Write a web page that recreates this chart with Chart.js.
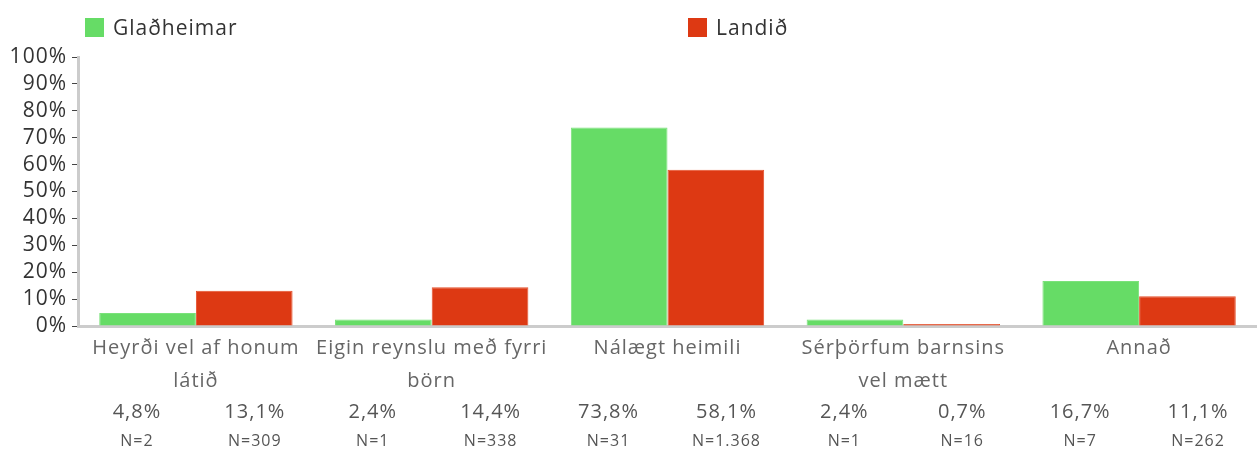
<!DOCTYPE html>
<html>
<head>
<meta charset="utf-8">
<script src="https://cdn.jsdelivr.net/npm/chart.js@4.4.1/dist/chart.umd.min.js"></script>
<style>
  html, body { margin:0; padding:0; background:#fff; }
  #wrap { position:relative; width:1257px; height:453px; }
  .leg { position:absolute; top:13px; font:21px "Open Sans", sans-serif; letter-spacing:1px; color:#333; display:flex; align-items:center; }
  .leg i { display:inline-block; width:19px; height:19px; margin-right:9px; }
</style>
</head>
<body>
<div id="wrap">
  <div class="leg" style="left:85px"><i style="background:#66dc66"></i>Glaðheimar</div>
  <div class="leg" style="left:688px"><i style="background:#dd3913"></i>Landið</div>
  <canvas id="chart" width="1257" height="453"></canvas>
</div>
<script>
const categories = [
  ['Heyrði vel af honum', 'látið'],
  ['Eigin reynslu með fyrri', 'börn'],
  ['Nálægt heimili'],
  ['Sérþörfum barnsins', 'vel mætt'],
  ['Annað']
];
const seriesNames = ['Glaðheimar', 'Landið'];
const glad = [4.8, 2.4, 73.8, 2.4, 16.7];
const landid = [13.1, 14.4, 58.1, 0.7, 11.1];
const gladN = ['N=2', 'N=1', 'N=31', 'N=1', 'N=7'];
const landidN = ['N=309', 'N=338', 'N=1.368', 'N=16', 'N=262'];
const yTicks = [0, 10, 20, 30, 40, 50, 60, 70, 80, 90, 100];

const colors = ['#66dc66', '#dd3913'];
const borders = ['#7ae27a', '#e5502c'];
const FONT = '"Open Sans", sans-serif';

function pctText(v){
  return v.toFixed(1).replace('.', ',') + '%';
}

// wider tracking, closer to the original typeface
const spacing = {
  id: 'spacing',
  beforeDraw(chart){ chart.ctx.letterSpacing = '1px'; }
};

// draws value + N rows under each bar group
const belowLabels = {
  id: 'belowLabels',
  afterDraw(chart){
    const ctx = chart.ctx;
    const x = chart.scales.x;
    const step = x.width / categories.length;
    const rows = [[glad, gladN], [landid, landidN]];
    ctx.save();
    ctx.textAlign = 'center';
    ctx.textBaseline = 'middle';
    categories.forEach((c, i) => {
      const cx = x.getPixelForValue(i);
      rows.forEach((r, k) => {
        const px = cx + (k === 0 ? -step / 4 : step / 4);
        ctx.fillStyle = '#555';
        ctx.font = '20px ' + FONT;
        ctx.fillText(pctText(r[0][i]), px, 412);
        ctx.font = '16px ' + FONT;
        ctx.fillText(r[1][i], px, 441);
      });
    });
    ctx.restore();
  }
};

new Chart(document.getElementById('chart'), {
  type: 'bar',
  data: {
    labels: categories,
    datasets: [
      { label: seriesNames[0], data: glad, backgroundColor: colors[0], borderColor: borders[0], borderWidth: 1 },
      { label: seriesNames[1], data: landid, backgroundColor: colors[1], borderColor: borders[1], borderWidth: 1 }
    ]
  },
  options: {
    responsive: false,
    animation: false,
    layout: { padding: { top: 57, right: 0, left: 0, bottom: 0 } },
    plugins: { legend: { display: false }, tooltip: { enabled: false } },
    datasets: { bar: { categoryPercentage: 0.82, barPercentage: 1.0 } },
    scales: {
      x: {
        grid: { display: false, drawTicks: false },
        border: { color: '#cccccc', width: 3 },
        ticks: { color: '#666', font: { family: FONT, size: 20, lineHeight: 1.65 }, padding: 6, maxRotation: 0, autoSkip: false },
        afterFit(s){ s.height = 127; }
      },
      y: {
        min: 0, max: 100,
        afterBuildTicks(s){ s.ticks = yTicks.map(v => ({ value: v })); },
        grid: { drawOnChartArea: false, tickLength: 6, color: '#444', tickWidth: 1 },
        border: { color: '#cccccc', width: 3 },
        ticks: { color: '#333', font: { family: FONT, size: 21, lineHeight: 1 }, padding: 5, autoSkip: false, callback: v => v + '%' },
        afterFit(s){ s.width = 78; }
      }
    }
  },
  plugins: [spacing, belowLabels]
});
</script>
</body>
</html>
